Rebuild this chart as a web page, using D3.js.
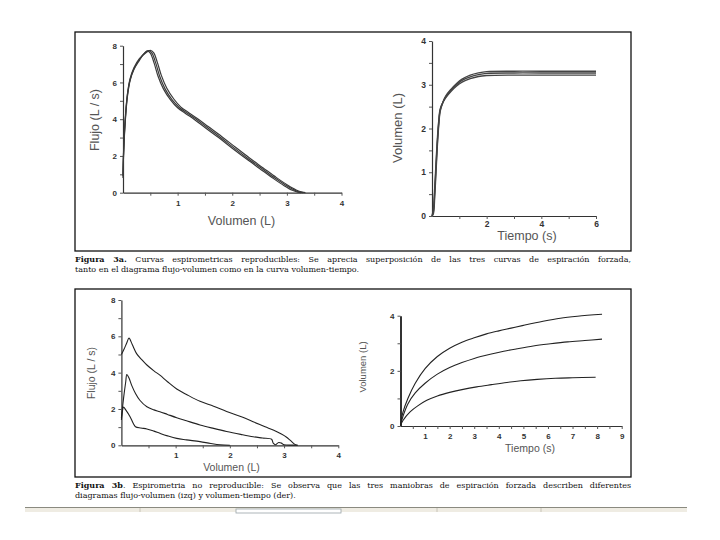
<!DOCTYPE html>
<html>
<head>
<meta charset="utf-8">
<script src="https://cdn.jsdelivr.net/npm/d3@7"></script>
<style>
  html, body { margin: 0; padding: 0; background: #ffffff; }
  svg { display: block; }
</style>
</head>
<body>
<svg id="chart" width="720" height="540"></svg>
<script>
// ---------- DATA ----------
// Figura 3a, left: three reproducible flow-volume curves [volume L, flow L/s]
const flowVolA1 = [[0,0.8],[0.01,2.0],[0.04,3.8],[0.08,5.2],[0.13,6.1],[0.2,6.7],[0.3,7.2],[0.38,7.55],[0.44,7.72],[0.5,7.6],[0.57,7.05],[0.64,6.35],[0.74,5.65],[0.87,5.05],[1.0,4.62],[1.15,4.3],[1.3,4.0],[1.5,3.55],[1.75,3.0],[2.0,2.42],[2.25,1.86],[2.5,1.32],[2.75,0.78],[2.95,0.38],[3.1,0.13],[3.2,0.03],[3.26,0]];
const flowVolA2 = [[0,0.9],[0.01,2.1],[0.04,3.9],[0.08,5.3],[0.13,6.15],[0.2,6.75],[0.3,7.25],[0.4,7.6],[0.47,7.74],[0.53,7.6],[0.6,7.05],[0.67,6.35],[0.77,5.65],[0.9,5.05],[1.03,4.64],[1.18,4.32],[1.33,4.02],[1.53,3.57],[1.78,3.02],[2.03,2.44],[2.28,1.88],[2.53,1.34],[2.78,0.8],[2.98,0.4],[3.14,0.14],[3.24,0.03],[3.3,0]];
const flowVolA3 = [[0,1.0],[0.01,2.2],[0.04,4.0],[0.08,5.35],[0.13,6.2],[0.2,6.8],[0.3,7.3],[0.42,7.62],[0.5,7.75],[0.56,7.62],[0.63,7.08],[0.7,6.4],[0.8,5.7],[0.93,5.1],[1.06,4.66],[1.21,4.34],[1.36,4.04],[1.56,3.6],[1.81,3.05],[2.06,2.47],[2.31,1.9],[2.56,1.36],[2.81,0.82],[3.01,0.42],[3.17,0.15],[3.28,0.03],[3.34,0]];
// Figura 3a, right: three reproducible volume-time curves [time s, volume L]
const volTimeA1 = [[0,0],[0.05,0.15],[0.1,0.65],[0.15,1.25],[0.2,1.8],[0.25,2.2],[0.3,2.45],[0.4,2.6],[0.5,2.7],[0.7,2.85],[0.9,2.97],[1.1,3.06],[1.4,3.14],[1.7,3.19],[2.0,3.21],[3,3.22],[4,3.22],[6,3.22]];
const volTimeA2 = [[0,0],[0.05,0.1],[0.1,0.55],[0.15,1.15],[0.2,1.72],[0.25,2.15],[0.3,2.42],[0.4,2.6],[0.5,2.72],[0.7,2.88],[0.9,3.0],[1.1,3.1],[1.4,3.18],[1.7,3.23],[2.0,3.26],[3,3.27],[4,3.27],[6,3.27]];
const volTimeA3 = [[0,0],[0.05,0.05],[0.1,0.45],[0.15,1.05],[0.2,1.65],[0.25,2.1],[0.3,2.4],[0.4,2.6],[0.5,2.74],[0.7,2.9],[0.9,3.03],[1.1,3.13],[1.4,3.22],[1.7,3.27],[2.0,3.3],[3,3.31],[4,3.31],[6,3.31]];
// Figura 3b, left: three non-reproducible flow-volume curves
const flowVolB1 = [[0,5.0],[0.05,5.3],[0.1,5.65],[0.14,5.9],[0.2,5.55],[0.28,5.05],[0.38,4.7],[0.47,4.42],[0.6,4.1],[0.71,3.86],[0.85,3.5],[1.02,3.1],[1.2,2.8],[1.45,2.42],[1.7,2.15],[1.94,1.86],[2.2,1.58],[2.43,1.3],[2.65,1.02],[2.8,0.84],[2.95,0.62],[3.04,0.46],[3.12,0.26],[3.2,0.05],[3.25,0]];
const flowVolB2 = [[0,1.5],[0.04,2.6],[0.08,3.5],[0.1,3.9],[0.14,3.7],[0.19,3.3],[0.26,2.85],[0.34,2.48],[0.47,2.12],[0.6,1.95],[0.71,1.85],[0.85,1.7],[1.02,1.52],[1.2,1.35],[1.45,1.12],[1.7,0.93],[1.94,0.76],[2.2,0.6],[2.43,0.47],[2.6,0.4],[2.77,0.33],[2.8,0.12],[2.84,0.03],[2.9,0.15],[2.95,0.12],[3.0,0.03],[3.2,0.01],[3.25,0]];
const flowVolB3 = [[0,1.4],[0.02,1.9],[0.04,2.1],[0.08,1.95],[0.16,1.57],[0.22,1.2],[0.26,1.02],[0.36,0.95],[0.47,0.9],[0.6,0.78],[0.71,0.66],[0.85,0.52],[1.02,0.38],[1.2,0.3],[1.45,0.2],[1.65,0.1],[1.82,0.03],[2.0,0]];
// Figura 3b, right: three non-reproducible volume-time curves
const volTimeB1 = [[0,0.05],[0.1,0.5],[0.3,1.0],[0.6,1.55],[1.0,2.08],[1.5,2.52],[2.0,2.82],[2.5,3.04],[3.0,3.2],[3.5,3.34],[4.0,3.45],[4.5,3.55],[5.0,3.65],[5.8,3.8],[6.5,3.91],[7.2,3.98],[8.2,4.05]];
const volTimeB2 = [[0,0.03],[0.1,0.35],[0.3,0.8],[0.6,1.2],[1.0,1.55],[1.5,1.88],[2.0,2.12],[2.5,2.3],[3.0,2.45],[3.65,2.6],[4.2,2.71],[4.74,2.8],[5.4,2.9],[6.1,2.98],[6.8,3.05],[7.5,3.1],[8.2,3.15]];
const volTimeB3 = [[0,0.02],[0.1,0.2],[0.4,0.52],[0.7,0.73],[1.07,0.93],[1.5,1.09],[2.0,1.22],[2.5,1.32],[3.1,1.42],[3.7,1.5],[4.33,1.58],[4.9,1.64],[5.56,1.69],[6.3,1.73],[7.0,1.75],[7.94,1.77]];

// Tick definitions
const fvXTicks = [0.5,1,1.5,2,2.5,3,3.5,4];
const fvXLabels = [1,2,3,4];
const fvYTicks = [0,1,2,3,4,5,6,7,8];
const fvYLabels = [0,2,4,6,8];
const vtAXTicks = [1,2,3,4,5,6];
const vtAXLabels = [2,4,6];
const vtAYTicks = [0,0.5,1,1.5,2,2.5,3,3.5,4];
const vtAYLabels = [0,1,2,3,4];
const vtBXTicks = [0.5,1,1.5,2,2.5,3,3.5,4,4.5,5,5.5,6,6.5,7,7.5,8,8.5,9];
const vtBXLabels = [1,2,3,4,5,6,7,8,9];
const vtBYTicks = [0,1,2,3,4];
const vtBYLabels = [0,2,4];

// Texts
const axisFlow = "Flujo (L / s)";
const axisVol = "Volumen (L)";
const axisTime = "Tiempo (s)";
const cap1Bold = "Figura 3a.";
const cap1Line1 = " Curvas espirometricas reproducibles: Se aprecia superposición de las tres curvas de espiración forzada,";
const cap1Line2 = "tanto en el diagrama flujo-volumen como en la curva volumen-tiempo.";
const cap2Bold = "Figura 3b";
const cap2Line1 = ". Espirometria no reproducible: Se observa que las tres maniobras de espiración forzada describen diferentes";
const cap2Line2 = "diagramas flujo-volumen (izq) y volumen-tiempo (der).";

// ---------- DRAWING ----------
const svg = d3.select("#chart");
svg.append("rect").attr("width",720).attr("height",540).attr("fill","#ffffff");

// frames
const frames = [[75,32,556,219],[75,289,556,188]];
frames.forEach(f => svg.append("rect").attr("x",f[0]).attr("y",f[1]).attr("width",f[2]).attr("height",f[3])
  .attr("fill","none").attr("stroke","#111").attr("stroke-width",1.3));

function panel(opt) {
  const g = svg.append("g");
  const x = d3.scaleLinear().domain(opt.xDomain).range(opt.xRange);
  const y = d3.scaleLinear().domain(opt.yDomain).range(opt.yRange);
  const xAxis = d3.axisBottom(x).tickValues(opt.xTicks).tickSize(3).tickSizeOuter(0)
    .tickFormat(d => opt.xLabels.includes(d) ? d : "");
  const yAxis = d3.axisLeft(y).tickValues(opt.yTicks).tickSize(3).tickSizeOuter(0)
    .tickFormat(d => opt.yLabels.includes(d) ? d : "");
  const gx = g.append("g").attr("transform",`translate(0,${opt.yRange[0]})`).call(xAxis);
  const gy = g.append("g").attr("transform",`translate(${opt.xRange[0]},0)`).call(yAxis);
  [gx,gy].forEach(a => {
    a.select(".domain").attr("stroke","#333").attr("stroke-width",1.2);
    a.selectAll(".tick line").attr("stroke","#555").attr("stroke-width",1);
    a.selectAll(".tick text").attr("fill","#333").attr("font-family","Liberation Sans, Arial, sans-serif")
      .attr("font-size",opt.tickFont).attr("font-weight","bold");
  });
  gy.select(".domain").attr("stroke-width",opt.yAxisWidth || 1.2);
  gx.selectAll(".tick text").attr("dy",opt.xTickDy || "0.9em");
  const lineC = d3.line().x(d => x(d[0])).y(d => y(d[1])).curve(d3.curveCatmullRom.alpha(0.5));
  opt.series.forEach(s => {
    g.append("path").datum(s).attr("d", lineC).attr("fill","none")
      .attr("stroke",opt.lineColor).attr("stroke-width",opt.lineWidth).attr("stroke-linejoin","round");
  });
  // axis titles
  g.append("text").attr("x",opt.xTitle[0]).attr("y",opt.xTitle[1]).attr("text-anchor","middle")
    .attr("font-family","Liberation Sans, Arial, sans-serif").attr("font-size",opt.xTitle[2])
    .attr("fill","#555").text(opt.xLabelText);
  g.append("text").attr("transform",`translate(${opt.yTitle[0]},${opt.yTitle[1]}) rotate(-90)`)
    .attr("text-anchor","middle").attr("font-family","Liberation Sans, Arial, sans-serif")
    .attr("font-size",opt.yTitle[2]).attr("fill","#555").text(opt.yLabelText);
  return {x,y,g};
}

// Panel 1: flow-volume reproducible
panel({xDomain:[0,4], xRange:[123,341.5], yDomain:[0,8], yRange:[192.7,45.7],
  xTicks:fvXTicks, xLabels:fvXLabels, yTicks:fvYTicks, yLabels:fvYLabels,
  tickFont:8, series:[flowVolA1,flowVolA2,flowVolA3], lineColor:"#3a3a3a", lineWidth:1.2,
  xTitle:[241.5,225,12.5], yTitle:[99,120,12.5], xLabelText:axisVol, yLabelText:axisFlow});

// Panel 2: volume-time reproducible
panel({xDomain:[0,6], xRange:[432,596], yDomain:[0,4], yRange:[216,41],
  xTicks:vtAXTicks, xLabels:vtAXLabels, yTicks:vtAYTicks, yLabels:vtAYLabels, xTickDy:"0.6em",
  tickFont:8.5, series:[volTimeA1,volTimeA2,volTimeA3], lineColor:"#444", lineWidth:1.4,
  xTitle:[527,240,12.5], yTitle:[402,128,13], xLabelText:axisTime, yLabelText:axisVol});

// Panel 3: flow-volume non reproducible
panel({xDomain:[0,4], xRange:[121.4,338.3], yDomain:[0,8], yRange:[445.3,300],
  xTicks:fvXTicks, xLabels:fvXLabels, yTicks:fvYTicks, yLabels:fvYLabels,
  tickFont:8, series:[flowVolB1,flowVolB2,flowVolB3], lineColor:"#222", lineWidth:1.1,
  xTitle:[231.5,471,10.5], yTitle:[95,373,10.5], xLabelText:axisVol, yLabelText:axisFlow});

// Panel 4: volume-time non reproducible
panel({xDomain:[0,9], xRange:[400.5,621.7], yDomain:[0,4], yRange:[426,315.7],
  xTicks:vtBXTicks, xLabels:vtBXLabels, yTicks:vtBYTicks, yLabels:vtBYLabels,
  tickFont:8, series:[volTimeB1,volTimeB2,volTimeB3], lineColor:"#222", lineWidth:1.1, yAxisWidth:2,
  xTitle:[530,452,10.5], yTitle:[366,367,9.5], xLabelText:axisTime, yLabelText:axisVol});

// Captions
function caption(xp, yp, bold, rest, justifyTo) {
  const t = svg.append("text").attr("x",xp).attr("y",yp)
    .attr("font-family","DejaVu Serif, Liberation Serif, serif").attr("font-size",8).attr("fill","#111");
  if (bold) t.append("tspan").attr("font-weight","bold").text(bold);
  t.append("tspan").text(rest);
  if (justifyTo) {
    const w = t.node().getComputedTextLength();
    const spaces = ((bold||"") + rest).split(" ").length - 1;
    if (w < justifyTo && spaces > 0) t.attr("word-spacing", (justifyTo - w) / spaces);
  }
}
caption(75, 262, cap1Bold, cap1Line1, 556);
caption(75, 271.5, null, cap1Line2, null);
caption(75, 488, cap2Bold, cap2Line1, 556);
caption(75, 498, null, cap2Line2, null);

// Page strip at the bottom
svg.append("rect").attr("x",25).attr("y",508).attr("width",662).attr("height",4).attr("fill","#efece3");
svg.append("line").attr("x1",25).attr("x2",687).attr("y1",507.5).attr("y2",507.5).attr("stroke","#8a8a80").attr("stroke-width",1.2);
[140,437,541].forEach(px => svg.append("line").attr("x1",px).attr("x2",px).attr("y1",508).attr("y2",512).attr("stroke","#c8c4b8"));
svg.append("rect").attr("x",236).attr("y",509).attr("width",105).attr("height",4).attr("fill","#ffffff").attr("stroke","#9aa4a8").attr("stroke-width",0.8);
</script>
</body>
</html>
